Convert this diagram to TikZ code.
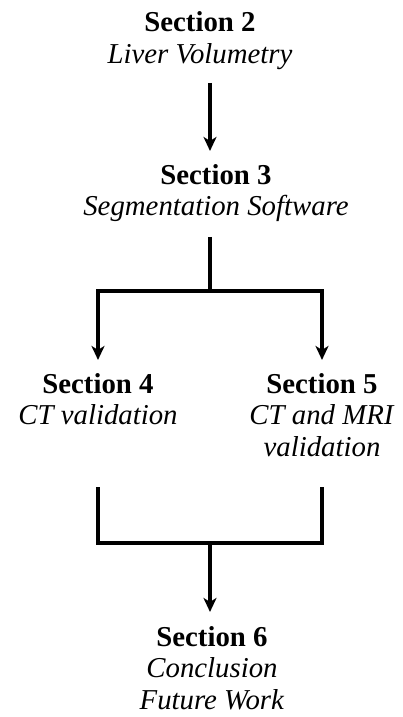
\documentclass[tikz,border=0pt]{standalone}
\usepackage{fontspec}
\setmainfont{Liberation Serif}
\usetikzlibrary{arrows.meta}

\begin{document}
\begin{tikzpicture}[
    x=1pt, y=-1pt,
    every node/.style={inner sep=0pt, outer sep=0pt, anchor=base,
      font=\fontsize{28.8}{31.5}\selectfont},
    line/.style={line width=3.6pt, draw=black},
    arr/.style={line, -{Stealth[length=14pt, width=13pt, inset=4pt]}},
  ]
  % canvas
  \useasboundingbox[fill=white] (0,0) rectangle (402,717);

  % section blocks (anchored at the baseline of their first line)
  \newcommand{\secblock}[2]{\begin{tabular}[t]{@{}c@{}}\textbf{#1}\\\textit{#2}\end{tabular}}
  \node (s2) at (200,32)  {\secblock{Section 2}{Liver Volumetry}};
  \node (s3) at (216,184) {\secblock{Section 3}{Segmentation Software}};
  \node (s4) at (98,393)  {\secblock{Section 4}{CT validation}};
  \node (s5) at (322,393) {\begin{tabular}[t]{@{}c@{}}\textbf{Section 5}\\\textit{CT and MRI}\\\textit{validation}\end{tabular}};
  \node (s6) at (212,646) {\begin{tabular}[t]{@{}c@{}}\textbf{Section 6}\\\textit{Conclusion}\\\textit{Future Work}\end{tabular}};

  % junctions of the branching connectors
  \coordinate (split) at (210,291);
  \coordinate (mtop)  at (210,487);
  \coordinate (merge) at (210,543);

  % Section 2 -> Section 3
  \draw[arr, shorten <=10pt, shorten >=11pt] (s2.south -| split) -- (s3.north -| split);

  % Section 3 -> Sections 4 and 5
  \draw[line, shorten <=12pt] (s3.south -| split) -- (split);
  \draw[arr, shorten >=11pt] (split) -| (s4.north);
  \draw[arr, shorten >=11pt] (split) -| (s5.north);

  % Sections 4 and 5 -> Section 6
  \draw[line] (s4.south |- mtop) |- (merge);
  \draw[line] (s5.south |- mtop) |- (merge);
  \draw[arr, shorten >=12pt] (merge) -- (s6.north -| merge);
\end{tikzpicture}
\end{document}
